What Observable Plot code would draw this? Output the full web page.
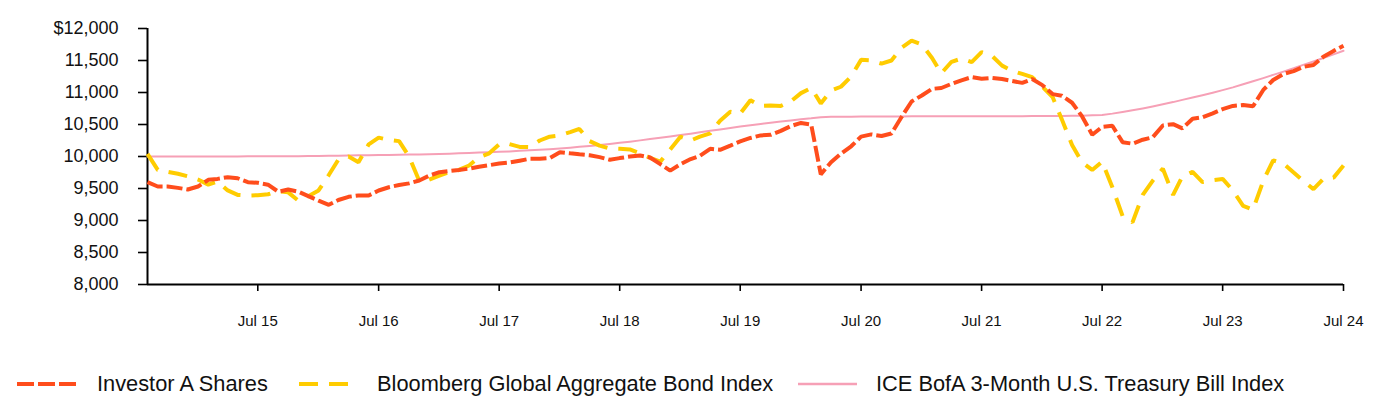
<!DOCTYPE html>
<html><head><meta charset="utf-8">
<script src="https://cdn.jsdelivr.net/npm/d3@7"></script>
<script src="https://cdn.jsdelivr.net/npm/@observablehq/plot@0.6"></script>
<style>
body{margin:0;background:#fff;font-family:"Liberation Sans",Arial,sans-serif;}
#wrap{position:relative;width:1384px;height:400px;overflow:hidden;}
#chart{position:absolute;left:0;top:0;}
.lg{position:absolute;white-space:nowrap;font-size:21.8px;line-height:24px;color:#111;}
.sw{position:absolute;}
</style></head><body>
<div id="wrap"><div id="chart"></div><div id="legend"></div></div>
<script>
// ---- data ----
const startMonth = "2014-08-01";   // first monthly value
const endMonth = "2024-07-01";     // last monthly value

const seriesNames = ["Investor A Shares", "Bloomberg Global Aggregate Bond Index", "ICE BofA 3-Month U.S. Treasury Bill Index"];
const seriesColors = ["#FF4D1C", "#FFCC00", "#F6A0B6"];

const investorA = [
  9600, 9531, 9531, 9510, 9484, 9531, 9635, 9650, 9677, 9660, 9598, 9590,
  9560, 9450, 9484, 9450, 9380, 9310, 9245, 9320, 9370, 9391, 9391, 9469,
  9520, 9555, 9580, 9625, 9700, 9755, 9775, 9790, 9810, 9840, 9865, 9890,
  9905, 9935, 9964, 9964, 9975, 10067, 10050, 10035, 10020, 9990, 9950, 9975,
  10000, 10016, 9985, 9880, 9780, 9880, 9960, 10010, 10120, 10105, 10170, 10235,
  10290, 10330, 10338, 10400, 10475, 10525, 10500, 9720, 9911, 10045, 10160, 10310,
  10345, 10320, 10360, 10620, 10860, 10953, 11057, 11070, 11135, 11190, 11240, 11215,
  11228, 11210, 11180, 11150, 11210, 11115, 10975, 10950, 10840, 10630, 10340, 10462,
  10480, 10224, 10200, 10262, 10300, 10485, 10505, 10440, 10590, 10614, 10675, 10740,
  10790, 10805, 10785, 11040, 11195, 11290, 11335, 11400, 11430, 11560, 11650, 11730
];

const bloombergAgg = [
  10040, 9790, 9760, 9730, 9690, 9640, 9560, 9610, 9470, 9400, 9390, 9395,
  9410, 9460, 9440, 9310, 9380, 9470, 9710, 9950, 10000, 9910, 10190, 10295,
  10260, 10240, 10000, 9620, 9640, 9700, 9760, 9790, 9860, 9990, 10050, 10190,
  10195, 10150, 10146, 10250, 10310, 10330, 10380, 10430, 10240, 10170, 10125, 10120,
  10110, 10050, 9980, 9920, 10110, 10310, 10250, 10310, 10360, 10560, 10700, 10670,
  10880, 10790, 10797, 10790, 10860, 10990, 11070, 10830, 11030, 11090, 11250, 11510,
  11500, 11450, 11500, 11700, 11810, 11750, 11540, 11300, 11480, 11530, 11474, 11630,
  11575, 11420, 11340, 11290, 11240, 11090, 10930, 10580, 10180, 9910, 9790, 9920,
  9520, 9070, 8970, 9400, 9620, 9810, 9400, 9690, 9760, 9600, 9630, 9650,
  9470, 9230, 9170, 9620, 9940, 9890, 9750, 9620, 9490, 9650, 9670, 9860
];

const tBill = [
  10000, 10000, 10000, 10000, 10000, 10000, 10000, 10000, 10001, 10001, 10002, 10002,
  10002, 10003, 10003, 10004, 10006, 10008, 10010, 10013, 10016, 10018, 10020, 10022,
  10025, 10027, 10030, 10033, 10036, 10040, 10044, 10049, 10055, 10061, 10068, 10075,
  10080, 10088, 10096, 10105, 10115, 10126, 10138, 10151, 10165, 10180, 10196, 10213,
  10232, 10252, 10272, 10293, 10314, 10335, 10357, 10379, 10401, 10423, 10445, 10467,
  10488, 10508, 10528, 10546, 10564, 10581, 10596, 10615, 10620, 10622, 10623, 10624,
  10625, 10625, 10626, 10626, 10627, 10627, 10628, 10628, 10628, 10629, 10629, 10629,
  10630, 10630, 10630, 10630, 10631, 10631, 10632, 10633, 10635, 10638, 10643, 10650,
  10670, 10695, 10722, 10751, 10782, 10815, 10850, 10885, 10921, 10958, 10997, 11037,
  11080, 11128, 11176, 11225, 11275, 11326, 11378, 11431, 11485, 11540, 11596, 11652
];

const yTicks = [8000, 8500, 9000, 9500, 10000, 10500, 11000, 11500, 12000];
const xTicks = ["2015-07-01","2016-07-01","2017-07-01","2018-07-01","2019-07-01","2020-07-01","2021-07-01","2022-07-01","2023-07-01","2024-07-01"];

// ---- build ----
const t0 = new Date(startMonth + "T00:00:00Z");
const t1 = new Date(endMonth + "T00:00:00Z");
const dates = d3.utcMonth.range(t0, d3.utcMonth.offset(t1, 1));
const rows = (vals, s) => vals.map((v, i) => ({date: dates[i], value: v, series: s}));
const xTickDates = xTicks.map(s => new Date(s + "T00:00:00Z"));
const fmtComma = d3.format(",");

const chart = Plot.plot({
  width: 1384, height: 334,
  marginLeft: 147, marginRight: 41, marginTop: 28, marginBottom: 50,
  style: {fontFamily: "'Liberation Sans', Arial, sans-serif", color: "#111", background: "#fff", overflow: "visible"},
  x: {type: "utc", domain: [t0, t1]},
  y: {domain: [8000, 12000]},
  marks: [
    Plot.axisY({ticks: yTicks, tickSize: 9, tickPadding: 20, fontSize: 18, strokeWidth: 1.6, stroke: "#000",
      tickFormat: d => d === 12000 ? "$" + fmtComma(d) : fmtComma(d), label: null}),
    Plot.axisX({ticks: xTickDates, tickSize: 7, tickPadding: 24, fontSize: 15, strokeWidth: 1.6, stroke: "#000",
      tickFormat: d3.utcFormat("%b %y"), label: null}),
    Plot.ruleX([t0], {y1: 8000, y2: 12000, stroke: "#000", strokeWidth: 2}),
    Plot.ruleY([8000], {stroke: "#000", strokeWidth: 2}),
    Plot.lineY(rows(tBill, seriesNames[2]), {x: "date", y: "value", stroke: seriesColors[2], strokeWidth: 2}),
    Plot.lineY(rows(bloombergAgg, seriesNames[1]), {x: "date", y: "value", stroke: seriesColors[1], strokeWidth: 4,
      strokeDasharray: "19,11", strokeLinecap: "butt", strokeLinejoin: "miter"}),
    Plot.lineY(rows(investorA, seriesNames[0]), {x: "date", y: "value", stroke: seriesColors[0], strokeWidth: 4,
      strokeDasharray: "16,4", strokeLinecap: "butt", strokeLinejoin: "miter"})
  ]
});
document.getElementById("chart").appendChild(chart);

// ---- legend ----
const legend = document.getElementById("legend");
const legendItems = [
  {sw: 17, w: 59, dash: "17,4", sw_width: 4, tx: 97},
  {sw: 299, w: 49, dash: "19,11", sw_width: 4, tx: 377},
  {sw: 798, w: 59, dash: null, sw_width: 2.5, tx: 876}
];
legendItems.forEach((it, i) => {
  const s = document.createElementNS("http://www.w3.org/2000/svg", "svg");
  s.setAttribute("width", it.w); s.setAttribute("height", 10);
  s.setAttribute("class", "sw");
  s.style.left = it.sw + "px"; s.style.top = "378.5px";
  const l = document.createElementNS("http://www.w3.org/2000/svg", "line");
  l.setAttribute("x1", 0); l.setAttribute("x2", it.w); l.setAttribute("y1", 5); l.setAttribute("y2", 5);
  l.setAttribute("stroke", seriesColors[i]); l.setAttribute("stroke-width", it.sw_width);
  if (it.dash) l.setAttribute("stroke-dasharray", it.dash);
  s.appendChild(l);
  legend.appendChild(s);
  const t = document.createElement("div");
  t.className = "lg"; t.textContent = seriesNames[i];
  t.style.left = it.tx + "px"; t.style.top = "372px";
  legend.appendChild(t);
});
</script>
</body></html>
